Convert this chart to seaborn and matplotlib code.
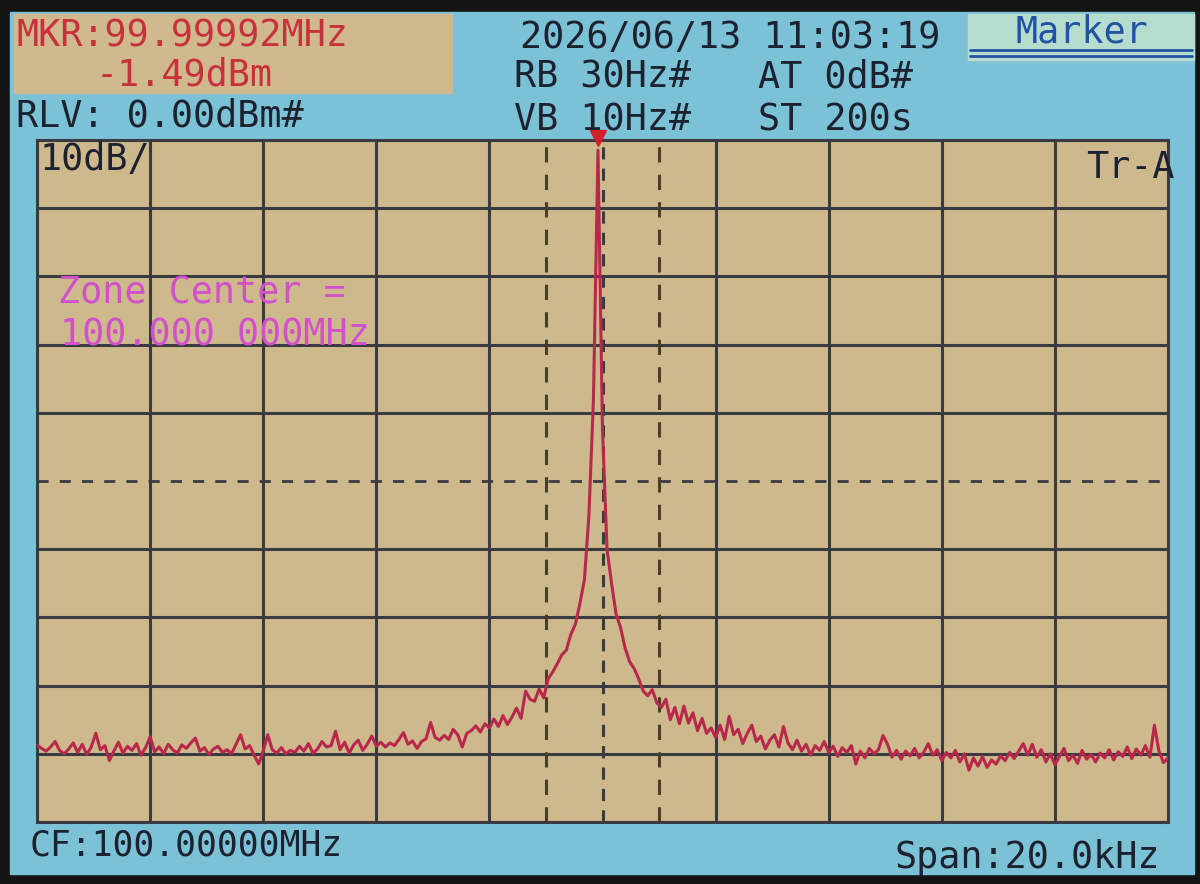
import numpy as np
import matplotlib
matplotlib.use("Agg")
import matplotlib.pyplot as plt
import seaborn as sns
import pandas as pd
from matplotlib.patches import Rectangle

# analyzer settings
center_mhz = 100.0
span_khz = 20.0
ref_level = 0.0
db_per_div = 10
zone_half_khz = 1.0
threshold_dbm = -50
marker_khz = -0.08
marker_dbm = -1.49

# sweep points (251 points over the span) and trace values
freq_khz = np.linspace(-span_khz / 2, span_khz / 2, 251)
level_dbm = [
    -88.7, -89.2, -89.6, -89.0, -88.2, -89.5, -90.0, -89.3, -88.4, -89.8,
    -88.6, -90.1, -89.0, -87.0, -89.4, -88.8, -91.0, -89.6, -88.3, -89.9,
    -88.9, -89.5, -88.5, -90.2, -89.1, -87.5, -89.7, -89.0, -90.0, -88.6,
    -89.4, -89.9, -88.7, -89.2, -88.4, -87.7, -89.6, -89.1, -90.1, -89.3,
    -88.9, -89.8, -89.4, -90.0, -88.6, -87.2, -89.3, -88.8, -90.2, -91.5,
    -89.6, -87.2, -89.4, -89.9, -89.1, -90.0, -89.5, -89.8, -88.9, -89.6,
    -88.5, -89.9, -89.3, -88.2, -89.0, -88.8, -86.7, -89.4, -88.3, -89.9,
    -88.7, -88.0, -89.5, -88.6, -87.4, -88.9, -88.3, -89.0, -88.4, -88.8,
    -87.9, -86.9, -88.6, -88.1, -89.2, -88.2, -87.8, -85.4, -87.6, -88.0,
    -87.3, -87.9, -86.4, -87.2, -89.0, -87.0, -86.6, -85.9, -86.8, -85.6,
    -86.2, -84.9, -86.0, -84.4, -85.7, -84.6, -83.3, -84.8, -80.8, -82.0,
    -82.3, -80.5, -81.8, -79.0, -78.0, -76.8, -75.5, -74.8, -72.5, -71.0,
    -68.0, -64.5, -55.0, -38.0, -1.49, -42.5, -60.0, -65.0, -69.5, -71.5,
    -74.5, -76.5, -77.5, -79.0, -80.8, -81.5, -80.6, -82.5, -83.2, -82.0,
    -85.0, -83.2, -85.6, -83.0, -85.5, -84.0, -86.6, -84.8, -87.0, -86.2,
    -87.6, -85.8, -87.9, -84.5, -87.2, -86.4, -88.5, -87.0, -85.8, -88.2,
    -87.4, -89.3, -88.0, -87.2, -89.0, -86.0, -88.4, -89.4, -88.0, -89.6,
    -88.6, -90.2, -88.8, -89.5, -88.2, -89.8, -88.9, -90.4, -89.1, -89.8,
    -88.8, -91.5, -89.6, -90.6, -89.2, -90.0, -89.4, -87.3, -88.6, -90.5,
    -89.5, -90.8, -89.6, -90.3, -89.2, -90.6, -89.8, -88.5, -90.2, -89.4,
    -91.0, -89.8, -90.6, -89.5, -91.2, -90.0, -92.4, -90.6, -91.8, -90.4,
    -92.0, -90.9, -91.5, -90.3, -91.0, -89.8, -90.7, -89.6, -88.5, -90.2,
    -88.6, -90.5, -89.4, -91.2, -90.0, -91.6, -90.4, -89.2, -91.0, -90.2,
    -91.4, -89.5, -90.8, -90.1, -91.2, -89.9, -90.6, -89.4, -90.9, -89.7,
    -90.4, -89.0, -90.7, -89.3, -90.2, -88.8, -90.5, -85.8, -89.6, -91.3,
    -90.6,
]

trace = pd.DataFrame({"freq": freq_khz, "level": level_dbm})

screen_blue = "#7cc2d6"
cell_tan = "#cdb98c"
grid_col = "#3a3a42"
trace_col = "#b8284a"
text_dark = "#1c2230"
text_red = "#c8303e"
text_mag = "#d250cc"
text_blue = "#2152a6"
mono = "DejaVu Sans Mono"

sns.set_style("white")
fig = plt.figure(figsize=(12, 8.84), dpi=100)
fig.patch.set_facecolor("#141414")
W, H = 1200, 884


def px(x, y):
    return x / W, 1 - y / H


# screen and header boxes (behind the axes)
fig.patches.append(Rectangle(px(10, 874), 1184 / W, 862 / H, transform=fig.transFigure,
                             color=screen_blue, zorder=-3))
fig.patches.append(Rectangle(px(14, 93), 438 / W, 79 / H, transform=fig.transFigure,
                             color="#cfb98d", zorder=-2))
fig.patches.append(Rectangle(px(968, 60), 226 / W, 46 / H, transform=fig.transFigure,
                             color="#b6dccd", zorder=-2))
for yy in (50, 56):
    fig.lines.append(plt.Line2D([970 / W, 1192 / W], [1 - yy / H] * 2, transform=fig.transFigure,
                                color=text_blue, lw=2, zorder=-1))

ax = fig.add_axes([37 / W, 1 - 822 / H, 1131 / W, 682 / H])
ax.set_facecolor(cell_tan)

xt = np.arange(-10, 10.1, 2)
yt = np.arange(-100, 0.1, db_per_div)
for x in xt:
    if x == 0:
        ax.axvline(x, color=grid_col, lw=2.2, ls=(0, (4, 3)), zorder=1)
    else:
        ax.axvline(x, color=grid_col, lw=2.2, zorder=1)
for y in yt:
    if y == threshold_dbm:
        ax.axhline(y, color=grid_col, lw=2, ls=(0, (4, 4)), zorder=1)
    else:
        ax.axhline(y, color=grid_col, lw=2.2, zorder=1)
for z in (-zone_half_khz, zone_half_khz):
    ax.axvline(z, color="#4a3e28", lw=2.2, ls=(0, (5, 4)), zorder=1)

sns.lineplot(data=trace, x="freq", y="level", color=trace_col, lw=2.2,
             estimator=None, sort=False, ax=ax, zorder=3)
ax.plot([marker_khz], [marker_dbm + 1.8], marker="v", color="#d0202c", ms=11,
        clip_on=False, zorder=4)

ax.set_xlim(-span_khz / 2, span_khz / 2)
ax.set_ylim(ref_level - 10 * db_per_div, ref_level)
ax.set_xticks([])
ax.set_yticks([])
ax.set_xlabel("")
ax.set_ylabel("")
for s in ax.spines.values():
    s.set_color(grid_col)
    s.set_linewidth(2.2)

fs = 26.5
# header texts
fig.text(*px(16, 36), "MKR:99.99992MHz", color=text_red, family=mono, fontsize=fs, va="center")
fig.text(*px(96, 75), "-1.49dBm", color=text_red, family=mono, fontsize=fs, va="center")
fig.text(*px(16, 116), "RLV: 0.00dBm#", color=text_dark, family=mono, fontsize=fs, va="center")
fig.text(*px(520, 37), "2026/06/13 11:03:19", color=text_dark, family=mono, fontsize=fs, va="center")
fig.text(*px(514, 77), "RB 30Hz#", color=text_dark, family=mono, fontsize=fs, va="center")
fig.text(*px(758, 77), "AT 0dB#", color=text_dark, family=mono, fontsize=fs, va="center")
fig.text(*px(514, 120), "VB 10Hz#", color=text_dark, family=mono, fontsize=fs, va="center")
fig.text(*px(758, 120), "ST 200s", color=text_dark, family=mono, fontsize=fs, va="center")
fig.text(*px(1082, 32), "Marker", color=text_blue, family=mono, fontsize=fs, va="center", ha="center")

# texts inside the graticule
fig.text(*px(40, 160), "10dB/", color=text_dark, family=mono, fontsize=fs, va="center")
fig.text(*px(1175, 167), "Tr-A", color=text_dark, family=mono, fontsize=fs, va="center", ha="right")
fig.text(*px(58, 293), "Zone Center =", color=text_mag, family=mono, fontsize=fs, va="center")
fig.text(*px(60, 335), "100.000 000MHz", color=text_mag, family=mono, fontsize=fs, va="center")

# footer
fig.text(*px(30, 845), "CF:100.00000MHz", color=text_dark, family=mono, fontsize=25, va="center")
fig.text(*px(1160, 858), "Span:20.0kHz", color=text_dark, family=mono, fontsize=fs, va="center", ha="right")

fig.savefig("out.png", dpi=100, facecolor=fig.get_facecolor())
